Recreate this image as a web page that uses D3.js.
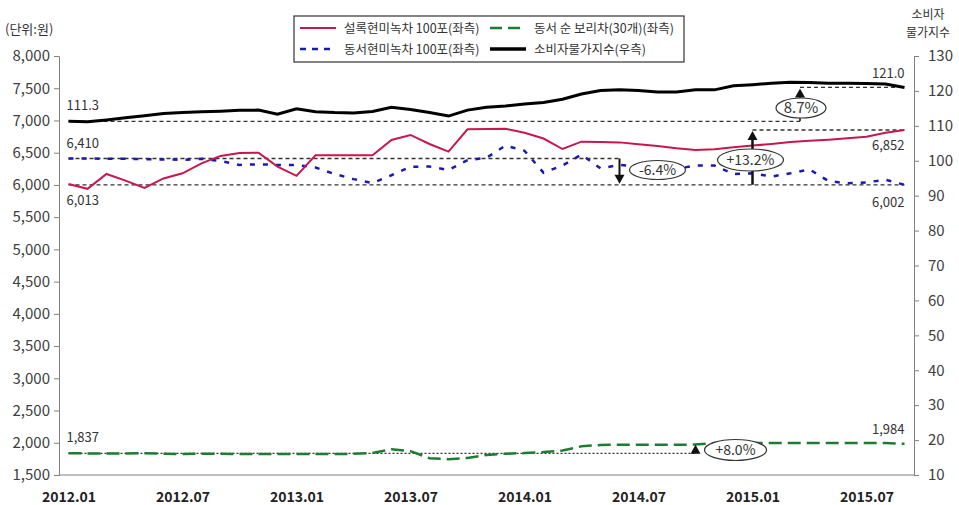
<!DOCTYPE html>
<html>
<head>
<meta charset="utf-8">
<script src="https://cdn.jsdelivr.net/npm/d3@7"></script>
<style>
  body { margin: 0; background: #fff; }
  text { font-family: "Noto Sans CJK KR", "Noto Sans", sans-serif; fill: #333; }
  .axis path, .axis line { stroke: #808080; }
  .axis text { font-size: 15px; fill: #404040; }
  .xaxis text { font-size: 14px; font-weight: bold; fill: #222; }
</style>
</head>
<body>
<div id="chart"></div>
<script>
// months 2012.01 - 2015.09
var months = [
  "2012.01","2012.02","2012.03","2012.04","2012.05","2012.06","2012.07","2012.08","2012.09","2012.10","2012.11","2012.12",
  "2013.01","2013.02","2013.03","2013.04","2013.05","2013.06","2013.07","2013.08","2013.09","2013.10","2013.11","2013.12",
  "2014.01","2014.02","2014.03","2014.04","2014.05","2014.06","2014.07","2014.08","2014.09","2014.10","2014.11","2014.12",
  "2015.01","2015.02","2015.03","2015.04","2015.05","2015.06","2015.07","2015.08","2015.09"
];
var xTickLabels = ["2012.01","2012.07","2013.01","2013.07","2014.01","2014.07","2015.01","2015.07"];
var leftTicks = [1500,2000,2500,3000,3500,4000,4500,5000,5500,6000,6500,7000,7500,8000];
var rightTicks = [10,20,30,40,50,60,70,80,90,100,110,120,130];

// 설록현미녹차 100포 (left)
var sulloc = [6013,5940,6170,6066,5955,6100,6180,6335,6450,6495,6500,6283,6140,6460,6460,
  6460,6460,6697,6775,6635,6516,6863,6868,6870,6810,6720,6557,6671,6665,6660,
  6630,6604,6568,6542,6553,6584,6610,6635,6666,6687,6702,6723,6748,6810,6852];
// 동서현미녹차 100포 (left)
var dongseoRice = [6410,6410,6405,6405,6400,6395,6390,6405,6370,6310,6320,6310,6310,6270,6170,
  6090,6030,6150,6280,6285,6230,6385,6420,6610,6530,6190,6300,6470,6257,6310,
  6280,6200,6250,6300,6300,6170,6180,6130,6180,6240,6060,6025,6040,6080,6002];
// 동서 순 보리차(30개) (left)
var dongseoBarley = [1837,1835,1835,1835,1837,1830,1825,1830,1830,1826,1824,1825,1826,1826,1824,
  1828,1840,1900,1870,1760,1745,1765,1810,1830,1840,1855,1880,1945,1965,1970,
  1970,1970,1970,1972,1995,2000,1998,1995,1995,1998,1995,1998,1995,1995,1984];
// 소비자물가지수 (right)
var cpi = [111.3,111.2,111.7,112.3,112.9,113.5,113.8,114.0,114.2,114.45,114.5,113.3,114.9,114.05,113.8,
  113.7,114.1,115.3,114.7,113.8,112.8,114.5,115.3,115.7,116.25,116.7,117.6,119.1,120.1,120.3,
  120.1,119.7,119.7,120.3,120.3,121.5,121.8,122.2,122.5,122.4,122.2,122.2,122.1,122.0,121.0];

var svgWidth = 959, svgHeight = 505;
var plot = { left: 59, right: 914, top: 56, bottom: 475 };

var svg = d3.select("#chart").append("svg")
  .attr("width", svgWidth)
  .attr("height", svgHeight);

var x = d3.scalePoint().domain(months).range([plot.left, plot.right]).padding(0.5);
var yL = d3.scaleLinear().domain([1500, 8000]).range([plot.bottom, plot.top]);
var yR = d3.scaleLinear().domain([10, 130]).range([plot.bottom, plot.top]);

// axes
svg.append("g").attr("class", "axis")
  .attr("transform", `translate(${plot.left},0)`)
  .call(d3.axisLeft(yL).tickValues(leftTicks).tickFormat(d3.format(",")).tickSizeOuter(0).tickSize(5).tickPadding(4));

svg.append("g").attr("class", "axis")
  .attr("transform", `translate(${plot.right},0)`)
  .call(d3.axisRight(yR).tickValues(rightTicks).tickSizeOuter(0).tickSize(5).tickPadding(9));

svg.append("g").attr("class", "axis xaxis")
  .attr("transform", `translate(0,${plot.bottom})`)
  .call(d3.axisBottom(x).tickValues(xTickLabels).tickSize(0).tickSizeOuter(0).tickPadding(17))
  .select(".domain").attr("d", `M${plot.left},0H${plot.right}`);

// header texts
svg.append("text").attr("x", 5).attr("y", 34).style("font-size", "13px").text("(단위:원)");
svg.append("text").attr("x", 928).attr("y", 19).attr("text-anchor", "middle").style("font-size", "12px").text("소비자");
svg.append("text").attr("x", 928).attr("y", 37).attr("text-anchor", "middle").style("font-size", "12px").text("물가지수");

// reference dashed lines + arrows
var x0 = x(months[0]), xN = x(months[months.length - 1]);
var xCpi = x(months[38]) + x.step() * 0.5;
var xDown = x(months[29]);
var xUp = x(months[36]);
var xBar = x(months[33]);

var ref = svg.append("g").attr("stroke", "#333").attr("stroke-width", 1.3).attr("stroke-dasharray", "4,3").attr("fill", "none");
function hline(x1, x2, y, dash) {
  ref.append("line").attr("x1", x1).attr("x2", x2).attr("y1", y).attr("y2", y)
    .attr("stroke-dasharray", dash || null);
}
hline(x0, xCpi, yR(111.3));
hline(xCpi, xN, yR(121.0));
hline(x0, xDown, yL(6410));
hline(x0, xN, yL(6002));
hline(xUp, xN, yL(6852));
hline(x0, xBar, yL(1837), "2,2");

function arrow(xp, yFrom, yTo, w) {
  svg.append("line").attr("x1", xp).attr("x2", xp).attr("y1", yFrom).attr("y2", yTo + (yTo < yFrom ? 6 : -6))
    .attr("stroke", "#111").attr("stroke-width", w);
  var dir = yTo < yFrom ? 1 : -1;
  svg.append("path")
    .attr("d", `M${xp - 5},${yTo + dir * 9}L${xp},${yTo}L${xp + 5},${yTo + dir * 9}Z`)
    .attr("fill", "#111");
}

// series lines
var lineL = d3.line().x((d, i) => x(months[i])).y(d => yL(d));
var lineR = d3.line().x((d, i) => x(months[i])).y(d => yR(d));

svg.append("path").datum(dongseoBarley).attr("d", lineL)
  .attr("fill", "none").attr("stroke", "#1e7b32").attr("stroke-width", 2.5).attr("stroke-dasharray", "13,6");
svg.append("path").datum(dongseoRice).attr("d", lineL)
  .attr("fill", "none").attr("stroke", "#1a1ab0").attr("stroke-width", 2.5).attr("stroke-dasharray", "5,8");
svg.append("path").datum(sulloc).attr("d", lineL)
  .attr("fill", "none").attr("stroke", "#c8174e").attr("stroke-width", 2);
svg.append("path").datum(cpi).attr("d", lineR)
  .attr("fill", "none").attr("stroke", "#000").attr("stroke-width", 3);

arrow(xCpi, yR(111.3), yR(121.0) + 1, 1.5);
arrow(xDown, yL(6410), yL(6002) - 1, 2);
arrow(xUp, yL(6002), yL(6852) + 1, 2.5);
arrow(xBar, yL(1837), yL(1984) + 1, 1.2);

// callouts
function callout(cx, cy, rx, ry, label, size) {
  svg.append("ellipse").attr("cx", cx).attr("cy", cy).attr("rx", rx).attr("ry", ry)
    .attr("fill", "#fff").attr("stroke", "#333").attr("stroke-width", 1.2);
  svg.append("text").attr("x", cx).attr("y", cy).attr("dy", "0.36em")
    .attr("text-anchor", "middle").style("font-size", size + "px").text(label);
}
callout(xCpi + 1, 108, 25, 10, "8.7%", 15);
callout(xDown + 38, 170, 28, 9.5, "-6.4%", 14);
callout(xUp - 2, 160, 33, 11, "+13.2%", 14);
callout(xBar + 40, 450, 31, 10.5, "+8.0%", 14);

// value labels
var fmt = d3.format(",");
function vlabel(xp, yp, txt, anchor) {
  svg.append("text").attr("x", xp).attr("y", yp).attr("text-anchor", anchor)
    .style("font-size", "13px").text(txt);
}
vlabel(x0 - 2, yR(cpi[0]) - 11, cpi[0].toFixed(1), "start");
vlabel(x0 - 2, yL(dongseoRice[0]) - 10, fmt(dongseoRice[0]), "start");
vlabel(x0 - 2, yL(sulloc[0]) + 21, fmt(sulloc[0]), "start");
vlabel(x0 - 2, yL(dongseoBarley[0]) - 11, fmt(dongseoBarley[0]), "start");
vlabel(xN, yR(cpi[44]) - 9, cpi[44].toFixed(1), "end");
vlabel(xN, yL(sulloc[44]) + 20, fmt(sulloc[44]), "end");
vlabel(xN, yL(dongseoRice[44]) + 22, fmt(dongseoRice[44]), "end");
vlabel(xN, yL(dongseoBarley[44]) - 10, fmt(dongseoBarley[44]), "end");

// legend
var legend = svg.append("g");
legend.append("rect").attr("x", 294).attr("y", 16).attr("width", 390).attr("height", 46)
  .attr("fill", "#fff").attr("stroke", "#333").attr("stroke-width", 1.2);
var legendItems = [
  { name: "설록현미녹차 100포(좌측)", color: "#c8174e", w: 2, dash: null, lx: 300, ly: 28 },
  { name: "동서 순 보리차(30개)(좌측)", color: "#1e7b32", w: 2.5, dash: "12,6", lx: 490, ly: 28 },
  { name: "동서현미녹차 100포(좌측)", color: "#1a1ab0", w: 2.5, dash: "6,6", lx: 300, ly: 49 },
  { name: "소비자물가지수(우측)", color: "#000", w: 3.5, dash: null, lx: 490, ly: 49 }
];
legendItems.forEach(function(d) {
  legend.append("line").attr("x1", d.lx).attr("x2", d.lx + 36).attr("y1", d.ly).attr("y2", d.ly)
    .attr("stroke", d.color).attr("stroke-width", d.w).attr("stroke-dasharray", d.dash);
  legend.append("text").attr("x", d.lx + 44).attr("y", d.ly + 4.5)
    .style("font-size", "12.5px").text(d.name);
});
</script>
</body>
</html>
